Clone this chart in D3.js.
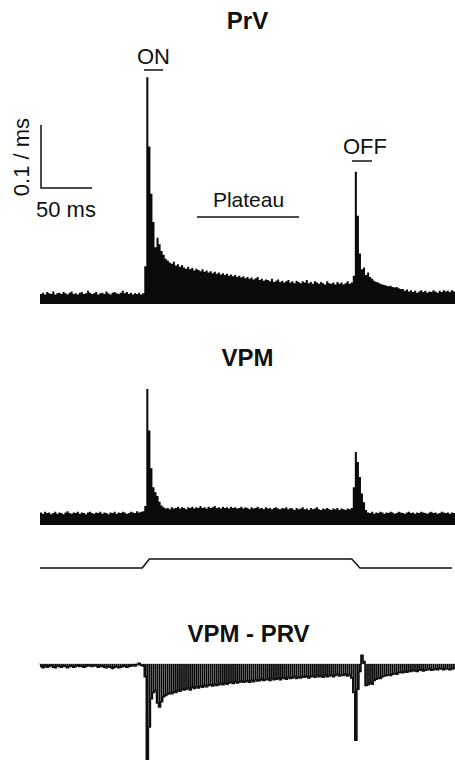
<!DOCTYPE html>
<html>
<head>
<meta charset="utf-8">
<script src="https://cdn.jsdelivr.net/npm/d3@7"></script>
<style>
    body { margin: 0; background: #fff; }
    text { font-family: "Liberation Sans", Arial, sans-serif; fill: #111; }
</style>
</head>
<body>
<script>
// ==================================================
// 데이터: 2 ms bin PSTH (단위: spikes / ms)
// ==================================================
const binMs = 2;

const prvValues = [
    0.016,0.018,0.015,0.019,0.017,0.016,0.020,0.015,0.017,0.018,
    0.016,0.019,0.017,0.015,0.018,0.020,0.016,0.017,0.015,0.018,
    0.019,0.016,0.017,0.021,0.018,0.016,0.017,0.019,0.015,0.017,
    0.018,0.016,0.020,0.017,0.015,0.018,0.019,0.017,0.016,0.018,
    0.021,0.017,0.019,0.016,0.018,0.015,0.017,0.016,0.018,0.015,
    0.017,0.060,0.360,0.250,0.175,0.130,0.090,0.105,0.095,0.084,
    0.078,0.072,0.069,0.066,0.064,0.067,0.061,0.063,0.059,0.062,
    0.058,0.056,0.059,0.055,0.057,0.053,0.056,0.054,0.052,0.055,
    0.051,0.053,0.050,0.052,0.049,0.051,0.048,0.050,0.047,0.049,
    0.046,0.048,0.045,0.047,0.044,0.046,0.043,0.045,0.042,0.044,
    0.041,0.043,0.040,0.042,0.039,0.041,0.043,0.038,0.040,0.037,
    0.039,0.038,0.036,0.040,0.035,0.037,0.039,0.035,0.037,0.034,
    0.036,0.038,0.034,0.036,0.033,0.037,0.035,0.033,0.036,0.034,
    0.038,0.033,0.035,0.032,0.036,0.034,0.032,0.035,0.033,0.031,
    0.036,0.033,0.032,0.034,0.031,0.035,0.032,0.034,0.031,0.033,
    0.036,0.032,0.034,0.045,0.210,0.140,0.080,0.055,0.058,0.046,
    0.050,0.043,0.040,0.037,0.035,0.034,0.032,0.031,0.030,0.029,
    0.028,0.029,0.027,0.026,0.027,0.025,0.024,0.024,0.021,0.023,
    0.020,0.022,0.019,0.021,0.018,0.020,0.022,0.019,0.021,0.018,
    0.020,0.019,0.022,0.020,0.018,0.021,0.019,0.022,0.020,0.021,
    0.019,0.022,0.020
];

const vpmValues = [
    0.020,0.018,0.021,0.019,0.020,0.017,0.019,0.021,0.018,0.020,
    0.019,0.017,0.020,0.022,0.019,0.018,0.020,0.019,0.021,0.018,
    0.020,0.019,0.017,0.020,0.021,0.019,0.018,0.020,0.019,0.021,
    0.018,0.020,0.019,0.017,0.020,0.019,0.021,0.018,0.020,0.019,
    0.021,0.020,0.018,0.019,0.021,0.020,0.019,0.022,0.020,0.021,
    0.022,0.030,0.216,0.150,0.090,0.060,0.052,0.046,0.037,0.031,
    0.028,0.026,0.027,0.025,0.028,0.026,0.027,0.029,0.026,0.028,
    0.027,0.025,0.028,0.027,0.029,0.026,0.028,0.027,0.030,0.027,
    0.028,0.026,0.029,0.027,0.028,0.030,0.027,0.028,0.026,0.029,
    0.027,0.028,0.026,0.029,0.027,0.028,0.026,0.027,0.029,0.026,
    0.028,0.027,0.025,0.028,0.026,0.027,0.029,0.026,0.027,0.025,
    0.028,0.026,0.027,0.025,0.027,0.028,0.026,0.025,0.027,0.026,
    0.028,0.025,0.027,0.026,0.024,0.027,0.025,0.026,0.028,0.025,
    0.026,0.024,0.027,0.025,0.026,0.028,0.025,0.024,0.026,0.025,
    0.027,0.025,0.024,0.026,0.025,0.027,0.024,0.026,0.025,0.024,
    0.026,0.025,0.027,0.060,0.116,0.100,0.076,0.050,0.036,0.024,
    0.020,0.019,0.021,0.018,0.020,0.019,0.021,0.020,0.018,0.020,
    0.019,0.021,0.020,0.018,0.019,0.021,0.020,0.019,0.018,0.020,
    0.021,0.019,0.020,0.018,0.020,0.019,0.021,0.020,0.019,0.018,
    0.020,0.021,0.019,0.020,0.018,0.019,0.021,0.020,0.019,0.020,
    0.018,0.020,0.019
];

const diffValues = [
    -0.004,-0.006,-0.003,-0.005,-0.004,-0.002,-0.005,-0.006,-0.003,-0.004,
    -0.005,-0.003,-0.004,-0.006,-0.004,-0.003,-0.005,-0.004,-0.002,-0.004,
    -0.003,-0.005,-0.004,-0.002,-0.003,-0.004,-0.002,-0.003,-0.005,-0.004,
    -0.003,-0.005,-0.006,-0.004,-0.005,-0.007,-0.005,-0.004,-0.006,-0.005,
    -0.004,-0.003,-0.005,-0.004,-0.003,-0.002,-0.003,-0.001,0.001,-0.002,
    -0.003,-0.020,-0.152,-0.100,-0.055,-0.045,-0.042,-0.062,-0.068,-0.060,
    -0.052,-0.050,-0.048,-0.046,-0.047,-0.044,-0.045,-0.042,-0.043,-0.040,
    -0.041,-0.040,-0.038,-0.041,-0.037,-0.039,-0.036,-0.038,-0.035,-0.037,
    -0.034,-0.036,-0.034,-0.033,-0.035,-0.032,-0.034,-0.033,-0.031,-0.033,
    -0.030,-0.032,-0.030,-0.029,-0.031,-0.028,-0.030,-0.029,-0.027,-0.029,
    -0.028,-0.027,-0.029,-0.026,-0.028,-0.025,-0.027,-0.026,-0.024,-0.026,
    -0.025,-0.024,-0.026,-0.023,-0.025,-0.024,-0.022,-0.025,-0.023,-0.022,
    -0.024,-0.021,-0.023,-0.022,-0.020,-0.023,-0.021,-0.022,-0.020,-0.021,
    -0.019,-0.022,-0.020,-0.019,-0.021,-0.018,-0.020,-0.019,-0.021,-0.018,
    -0.020,-0.019,-0.017,-0.020,-0.018,-0.016,-0.019,-0.017,-0.018,-0.016,
    -0.019,-0.017,-0.022,-0.045,-0.121,-0.040,-0.012,0.014,0.004,-0.034,
    -0.033,-0.030,-0.032,-0.026,-0.024,-0.022,-0.023,-0.020,-0.019,-0.018,
    -0.017,-0.018,-0.016,-0.015,-0.016,-0.014,-0.013,-0.014,-0.012,-0.013,
    -0.011,-0.012,-0.010,-0.011,-0.012,-0.010,-0.009,-0.011,-0.010,-0.009,
    -0.008,-0.010,-0.009,-0.008,-0.009,-0.007,-0.008,-0.009,-0.007,-0.008,
    -0.009,-0.008,-0.007
];

// 자극 (stimulus) 파형: 시간(ms), 레벨
const stimTimes = [0, 100, 107, 305, 313, 403];
const stimLevels = [0, 0, 1, 1, 0, 0];

// 라벨
const panelTitles = ['PrV', 'VPM', 'VPM - PRV'];
const epochLabels = ['ON', 'Plateau', 'OFF'];
const scaleBarValue = 0.1;   // 1/ms
const scaleBarTime = 50;     // ms


function toPoints(values) {
    const pts = values.map((v, i) => ({ t: i * binMs, v }));
    pts.push({ t: values.length * binMs, v: values[values.length - 1] });
    return pts;
}

function drawPsth(svg, values, scaleX, scaleY) {
    const area = d3.area()
        .x(d => scaleX(d.t))
        .y0(scaleY(0))
        .y1(d => scaleY(d.v))
        .curve(d3.curveStepAfter);

    svg.append('path')
        .datum(toPoints(values))
        .attr('d', area)
        .attr('fill', '#0a0a0a');
}

function drawDiff(svg, values, scaleX, scaleY) {
    const bw = scaleX(binMs) - scaleX(0);

    // 0 기준선
    svg.append('line')
        .attr('x1', scaleX(0) - 2)
        .attr('x2', scaleX(values.length * binMs))
        .attr('y1', scaleY(0))
        .attr('y2', scaleY(0))
        .attr('stroke', '#b5b5b5')
        .attr('stroke-width', 1);

    svg.selectAll('rect.diff-bar')
        .data(values)
        .enter()
        .append('rect')
        .attr('class', 'diff-bar')
        .attr('x', (d, i) => scaleX(i * binMs))
        .attr('width', bw - 0.25)
        .attr('y', d => Math.min(scaleY(d), scaleY(0)))
        .attr('height', d => Math.abs(scaleY(d) - scaleY(0)))
        .attr('fill', '#0a0a0a');

    const line = d3.line()
        .x(d => scaleX(d.t))
        .y(d => scaleY(d.v))
        .curve(d3.curveStepAfter);

    svg.append('path')
        .datum(toPoints(values))
        .attr('d', line)
        .attr('fill', 'none')
        .attr('stroke', '#111')
        .attr('stroke-width', 1.6);
}


function renderSVG() {
    // ==================================================
    // 1. 기본 설정
    // ==================================================
    const width = 455;
    const height = 760;
    const pxPerUnit = 630;                 // 1 spike/ms 당 픽셀
    const baseY = [304, 525, 664];         // 각 패널의 0 위치

    const svg = d3.select('body')
        .append('svg')
        .attr('width', width)
        .attr('height', height);

    const scaleX = d3.scaleLinear()
        .domain([0, prvValues.length * binMs])
        .range([40, 455]);

    const yScales = baseY.map(b => d3.scaleLinear()
        .domain([0, 1])
        .range([b, b - pxPerUnit]));

    // ==================================================
    // 2. PSTH 그리기
    // ==================================================
    drawPsth(svg, prvValues, scaleX, yScales[0]);
    drawPsth(svg, vpmValues, scaleX, yScales[1]);
    drawDiff(svg, diffValues, scaleX, yScales[2]);

    // ==================================================
    // 3. 자극 파형
    // ==================================================
    const stimY = d3.scaleLinear().domain([0, 1]).range([568, 559]);
    const stimLine = d3.line()
        .x(d => scaleX(d[0]))
        .y(d => stimY(d[1]));

    svg.append('path')
        .datum(d3.zip(stimTimes, stimLevels))
        .attr('d', stimLine)
        .attr('fill', 'none')
        .attr('stroke', '#111')
        .attr('stroke-width', 1.5);

    // ==================================================
    // 4. 패널 제목
    // ==================================================
    const titlePos = [
        { x: 247.5, y: 28.5 },
        { x: 247.5, y: 365.5 },
        { x: 248.5, y: 642 }
    ];

    svg.selectAll('text.panel-title')
        .data(panelTitles)
        .enter()
        .append('text')
        .attr('class', 'panel-title')
        .attr('x', (d, i) => titlePos[i].x)
        .attr('y', (d, i) => titlePos[i].y)
        .attr('text-anchor', 'middle')
        .attr('font-size', '24px')
        .attr('font-weight', 'bold')
        .text(d => d);

    // ==================================================
    // 5. 구간 라벨 (ON / Plateau / OFF) + 밑줄
    // ==================================================
    const epochs = [
        { text: epochLabels[0], tx: 153.5, ty: 64, x1: 144, x2: 163, ly: 70, size: 22 },
        { text: epochLabels[1], tx: 248.5, ty: 207, x1: 197, x2: 299, ly: 217, size: 21 },
        { text: epochLabels[2], tx: 365, ty: 154, x1: 352, x2: 372, ly: 161, size: 22 }
    ];

    svg.selectAll('text.epoch-label')
        .data(epochs)
        .enter()
        .append('text')
        .attr('class', 'epoch-label')
        .attr('x', d => d.tx)
        .attr('y', d => d.ty)
        .attr('text-anchor', 'middle')
        .attr('font-size', d => d.size + 'px')
        .text(d => d.text);

    svg.selectAll('line.epoch-line')
        .data(epochs)
        .enter()
        .append('line')
        .attr('class', 'epoch-line')
        .attr('x1', d => d.x1)
        .attr('x2', d => d.x2)
        .attr('y1', d => d.ly)
        .attr('y2', d => d.ly)
        .attr('stroke', '#111')
        .attr('stroke-width', 1.5);

    // ==================================================
    // 6. 스케일 바
    // ==================================================
    const barX = 41;
    const barY = 188;
    const barH = yScales[0](0) - yScales[0](scaleBarValue);
    const barW = scaleX(scaleBarTime) - scaleX(0);

    svg.append('path')
        .attr('d', `M${barX},${barY - barH}V${barY}H${barX + barW}`)
        .attr('fill', 'none')
        .attr('stroke', '#111')
        .attr('stroke-width', 1.5);

    svg.append('text')
        .attr('x', 36)
        .attr('y', 217)
        .attr('font-size', '22px')
        .text(scaleBarTime + ' ms');

    svg.append('text')
        .attr('transform', `translate(29, 157) rotate(-90)`)
        .attr('text-anchor', 'middle')
        .attr('font-size', '22px')
        .text(scaleBarValue + ' / ms');
}

window.addEventListener('load', function() {
    requestAnimationFrame(renderSVG);
});
</script>
</body>
</html>
